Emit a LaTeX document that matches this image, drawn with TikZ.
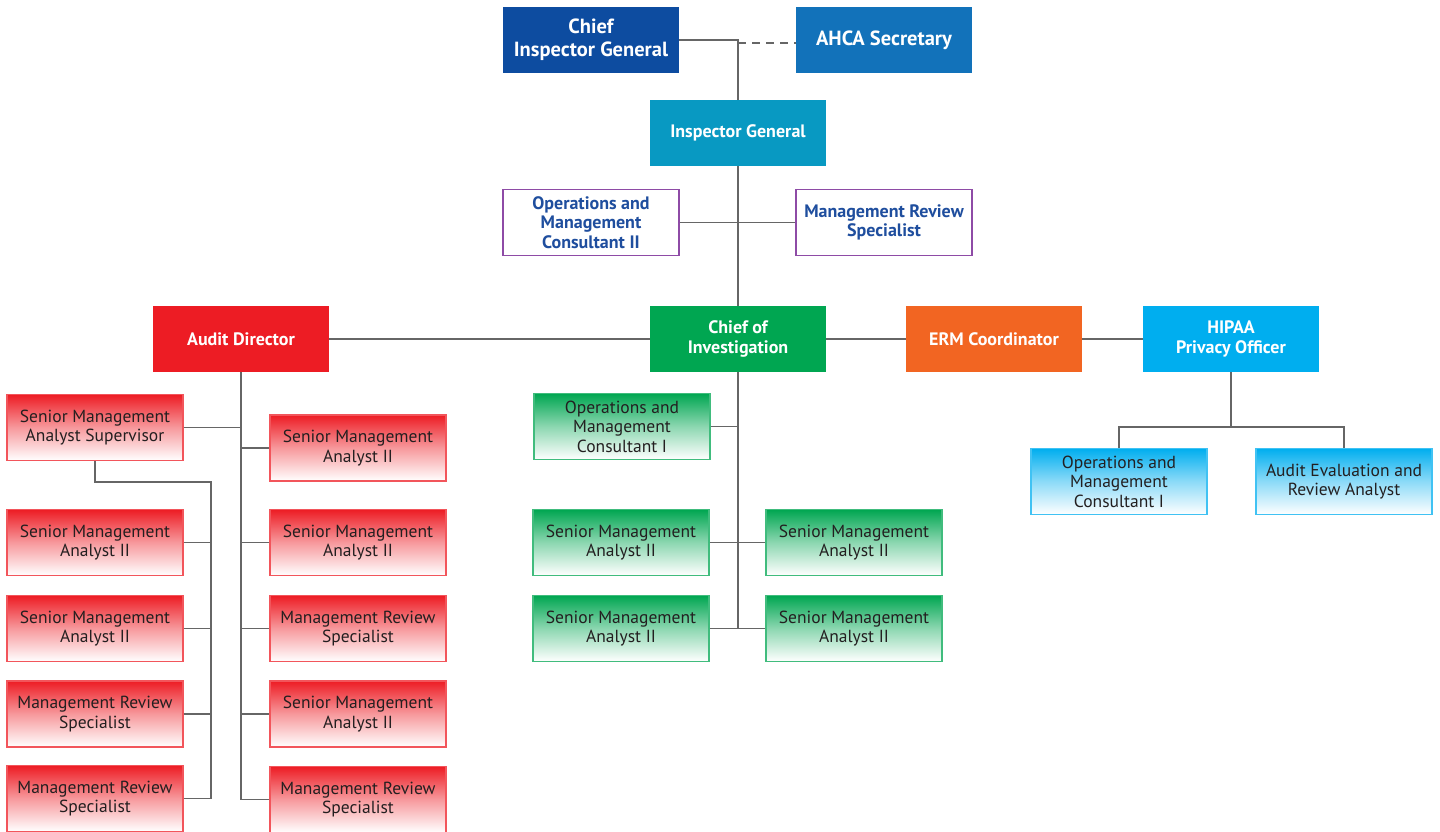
\documentclass[tikz,border=0pt]{standalone}
\usepackage{fontspec}
\setmainfont{PT Sans}
\definecolor{cigblue}{HTML}{0D4CA0}
\definecolor{ahcablue}{HTML}{1272BA}
\definecolor{igblue}{HTML}{0899C2}
\definecolor{adred}{HTML}{ED1C24}
\definecolor{coigreen}{HTML}{00A651}
\definecolor{ermorange}{HTML}{F26522}
\definecolor{hipaacyan}{HTML}{00AEEF}
\definecolor{purpleb}{HTML}{8E4BA6}
\definecolor{bluetext}{HTML}{1F4E9E}
\definecolor{darktext}{HTML}{231F20}
\definecolor{linegray}{HTML}{666666}
\tikzset{
  base/.style={rectangle, minimum width=176pt, minimum height=66pt, inner sep=2pt, align=center, font=\fontsize{17.5}{19.5}\selectfont},
  head/.style={base, fill=#1, text=white, font=\fontsize{18}{19.5}\selectfont\bfseries},
  tophead/.style={base, fill=#1, text=white, font=\fontsize{20.5}{23}\selectfont\bfseries},
  staff/.style={base, fill=white, draw=purpleb, line width=1.5pt, text=bluetext, font=\fontsize{18}{19.5}\selectfont\bfseries},
  grad/.style={base, top color=#1, bottom color=white, middle color=#1!45!white, draw=#1!75!white, line width=1.3pt, text=darktext},
  conn/.style={draw=linegray, line width=1.6pt},
}
\begin{document}
\begin{tikzpicture}[x=1pt,y=-1pt]
\useasboundingbox (0,0) rectangle (1440,832);
\clip (0,0) rectangle (1440,832);
% top level
\node[tophead=cigblue] (cig) at (591,40) {Chief\\Inspector General};
\node[tophead=ahcablue] (ahca) at (884,40) {AHCA Secretary};
\node[head=igblue] (ig) at (738,133) {Inspector General};
\node[staff] (o2) at (591,222.5) {Operations and\\Management\\Consultant II};
\node[staff] (m2) at (884,222.5) {Management Review\\Specialist};
\node[head=adred] (ad) at (241,339) {Audit Director};
\node[head=coigreen] (coi) at (738,339) {Chief of\\Investigation};
\node[head=ermorange] (erm) at (994,339) {ERM Coordinator};
\node[head=hipaacyan] (hipaa) at (1231,339) {HIPAA\\Privacy Officer};
% red left column
\node[grad=adred] (s0) at (95,427.5) {Senior Management\\Analyst Supervisor};
\node[grad=adred] (l1) at (95,542.5) {Senior Management\\Analyst II};
\node[grad=adred] (l2) at (95,628.5) {Senior Management\\Analyst II};
\node[grad=adred] (l3) at (95,714) {Management Review\\Specialist};
\node[grad=adred] (l4) at (95,798.5) {Management Review\\Specialist};
% red right column
\node[grad=adred] (r1) at (358,448) {Senior Management\\Analyst II};
\node[grad=adred] (r2) at (358,542.5) {Senior Management\\Analyst II};
\node[grad=adred] (r3) at (358,628.5) {Management Review\\Specialist};
\node[grad=adred] (r4) at (358,714) {Senior Management\\Analyst II};
\node[grad=adred] (r5) at (358,799.5) {Management Review\\Specialist};
% green
\node[grad=coigreen] (g0) at (622,426.5) {Operations and\\Management\\Consultant I};
\node[grad=coigreen] (g1) at (621,542.5) {Senior Management\\Analyst II};
\node[grad=coigreen] (g2) at (854,542.5) {Senior Management\\Analyst II};
\node[grad=coigreen] (g3) at (621,628.5) {Senior Management\\Analyst II};
\node[grad=coigreen] (g4) at (854,628.5) {Senior Management\\Analyst II};
% cyan
\node[grad=hipaacyan] (b1) at (1119,481.5) {Operations and\\Management\\Consultant I};
\node[grad=hipaacyan] (b2) at (1344,481.5) {Audit Evaluation and\\Review Analyst};
\coordinate (lsp) at (211,482);
\coordinate (hb) at (1231,427);
% connectors top
\draw[conn] (cig.east) -- (cig.east -| ig.north) -- (ig.north);
\draw[conn, dash pattern=on 8pt off 6pt] ([yshift=-3pt]ig.north |- ahca.west) -- ([yshift=-3pt]ahca.west);
\draw[conn] (ig.south) -- (coi.north);
\draw[conn] (o2.east) -- (m2.west);
\draw[conn] (ad.east) -- (coi.west);
\draw[conn] (coi.east) -- (erm.west);
\draw[conn] (erm.east) -- (hipaa.west);
% red
\draw[conn] (ad.south) -- (ad.south |- r5.west);
\draw[conn] (s0.east) -- (s0.east -| ad.south);
\foreach \n in {r1,r2,r3,r4,r5} \draw[conn] (\n.west -| ad.south) -- (\n.west);
\draw[conn] (s0.south) |- (lsp) -- (lsp |- l4.east);
\foreach \n in {l1,l2,l3,l4} \draw[conn] (\n.east) -- (\n.east -| lsp);
% green
\draw[conn] (coi.south) -- (coi.south |- g3.east);
\draw[conn] (g0.east) -- (g0.east -| coi.south);
\draw[conn] (g1.east) -- (g2.west);
\draw[conn] (g3.east) -- (g4.west);
% cyan
\draw[conn] (hipaa.south) -- (hb);
\draw[conn] (b1.north) |- (hb) -| (b2.north);
\end{tikzpicture}
\end{document}
